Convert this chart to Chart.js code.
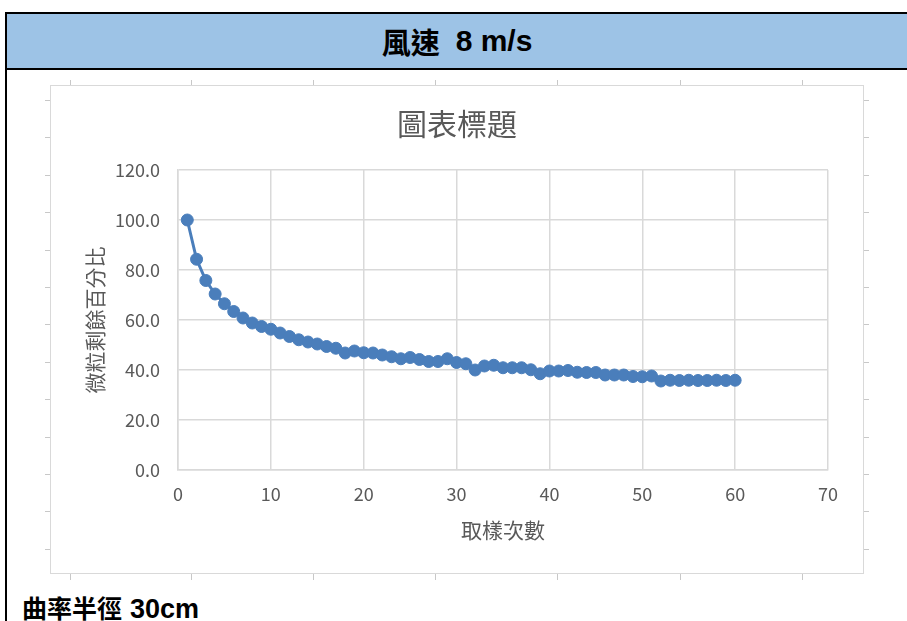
<!DOCTYPE html>
<html>
<head>
<meta charset="utf-8">
<script src="https://cdn.jsdelivr.net/npm/chart.js@4/dist/chart.umd.min.js"></script>
<style>
  html, body { margin: 0; padding: 0; background: #fff; }
  body { width: 907px; height: 621px; position: relative; overflow: hidden; }
  .rule { position: absolute; background: #000; }
  #band { position: absolute; left: 7px; top: 14px; width: 900px; height: 54px; background: #9dc3e6;
          display: flex; align-items: center; justify-content: center; }
  #band span, #caption span { font-weight: bold; color: #000; }
  .cjk { font-family: "Noto Sans CJK TC", sans-serif; }
  .lat { font-family: "Liberation Sans", Arial, sans-serif; }
  #frame { position: absolute; left: 50px; top: 85px; width: 812px; height: 487px; border: 1px solid #d9d9d9; }
  #frame canvas { position: absolute; left: 0; top: 0; filter: blur(0.4px); }
  .tk { position: absolute; background: #c8c8c8; }
  #caption { position: absolute; left: 22px; top: 589px; white-space: nowrap; }
</style>
</head>
<body>
<div class="rule" style="left:5px;top:12px;width:902px;height:2px"></div>
<div class="rule" style="left:5px;top:12px;width:2px;height:609px"></div>
<div id="band"><span class="cjk" style="font-size:29px">風速</span><span class="lat" style="font-size:30px;margin-left:16px">8 m/s</span></div>
<div class="rule" style="left:5px;top:68px;width:902px;height:2px"></div>

<div id="ticks"></div>
<div id="frame"><canvas id="c" width="812" height="487"></canvas></div>

<div id="caption"><span class="cjk" style="font-size:25px">曲率半徑</span><span class="lat" style="font-size:27px;margin-left:8px">30cm</span></div>

<script>
// sampling round (1..60) and percentage of particles remaining
const sampleRounds = [
  1, 2, 3, 4, 5, 6, 7, 8, 9, 10,
  11, 12, 13, 14, 15, 16, 17, 18, 19, 20,
  21, 22, 23, 24, 25, 26, 27, 28, 29, 30,
  31, 32, 33, 34, 35, 36, 37, 38, 39, 40,
  41, 42, 43, 44, 45, 46, 47, 48, 49, 50,
  51, 52, 53, 54, 55, 56, 57, 58, 59, 60
];
const remainPercent = [
  100.0, 84.3, 75.8, 70.4, 66.5, 63.4, 60.8, 58.8, 57.4, 56.3,
  54.8, 53.4, 52.1, 51.2, 50.4, 49.4, 48.7, 46.8, 47.6, 46.9,
  46.8, 46.0, 45.3, 44.5, 45.0, 44.2, 43.4, 43.4, 44.5, 43.0,
  42.5, 40.0, 41.6, 41.9, 40.9, 40.9, 40.9, 40.1, 38.5, 39.6,
  39.6, 39.8, 39.1, 39.0, 39.0, 38.0, 38.0, 38.0, 37.4, 37.3,
  37.6, 35.6, 35.9, 35.8, 35.9, 35.8, 35.8, 35.9, 35.8, 35.9
];
const xAxisRange = [0, 70];
const yAxisRange = [0, 120];
const chartTitle = '圖表標題';
const xAxisTitle = '取樣次數';
const yAxisTitle = '微粒剩餘百分比';

// little guide marks around the chart frame
(function () {
  const box = document.getElementById('ticks');
  const add = (l, t, w, h) => {
    const d = document.createElement('div');
    d.className = 'tk';
    d.style.cssText = `left:${l}px;top:${t}px;width:${w}px;height:${h}px`;
    box.appendChild(d);
  };
  for (let k = 0; k < 13; k++) {
    const y = Math.round(100 + 37.4 * k);
    add(45, y, 5, 1);
    add(864, y, 5, 1);
  }
  [70, 191, 313, 435, 557, 680, 802].forEach(x => {
    add(x, 80, 1, 5);
    add(x, 574, 1, 6);
  });
})();

const FONT = '"Noto Sans CJK TC", "Noto Sans", sans-serif';
const BLUE = '#4a7ebb';
const GRID = '#d9d9d9';
const TEXT = '#595959';

// chart title centred on the whole canvas, independent of the plot padding
const centredTitle = {
  id: 'centredTitle',
  afterDraw(chart) {
    const ctx = chart.ctx;
    ctx.save();
    ctx.font = `normal 30px ${FONT}`;
    ctx.fillStyle = TEXT;
    ctx.textAlign = 'center';
    ctx.textBaseline = 'middle';
    ctx.fillText(chartTitle, chart.width / 2, 38);
    ctx.restore();
  }
};

new Chart(document.getElementById('c'), {
  type: 'line',
  data: {
    datasets: [{
      data: sampleRounds.map((x, i) => ({ x: x, y: remainPercent[i] })),
      borderColor: BLUE,
      backgroundColor: BLUE,
      borderWidth: 3,
      pointRadius: 6,
      pointBorderWidth: 1,
      pointBackgroundColor: BLUE,
      pointBorderColor: BLUE,
      tension: 0,
      clip: false
    }]
  },
  options: {
    responsive: false,
    devicePixelRatio: 1,
    animation: false,
    layout: { padding: { left: 0, right: 35, top: 84, bottom: 0 } },
    plugins: {
      legend: { display: false },
      tooltip: { enabled: false },
      title: { display: false }
    },
    scales: {
      x: {
        type: 'linear',
        min: xAxisRange[0],
        max: xAxisRange[1],
        ticks: { stepSize: 10, color: TEXT, padding: 13, font: { family: FONT, size: 18 } },
        grid: { color: GRID, lineWidth: 1.5, drawTicks: false },
        border: { display: true, color: GRID, width: 1.5 },
        title: { display: true, text: xAxisTitle, color: TEXT,
                 font: { family: FONT, size: 21, lineHeight: 1.2 }, padding: { top: 0, bottom: 30.4 } },
        afterFit(scale) { scale.height = 103; }
      },
      y: {
        min: yAxisRange[0],
        max: yAxisRange[1],
        ticks: { stepSize: 20, color: TEXT, padding: 18, font: { family: FONT, size: 18 },
                 callback: v => Number(v).toFixed(1) },
        grid: { color: GRID, lineWidth: 1.5, drawTicks: false },
        border: { display: true, color: GRID, width: 1.5 },
        title: { display: true, text: yAxisTitle, color: TEXT,
                 font: { family: FONT, size: 21, lineHeight: 1.2 }, padding: { top: 31.5, bottom: 0 } },
        afterFit(scale) { scale.width = 127; }
      }
    }
  },
  plugins: [centredTitle]
});
</script>
</body>
</html>
